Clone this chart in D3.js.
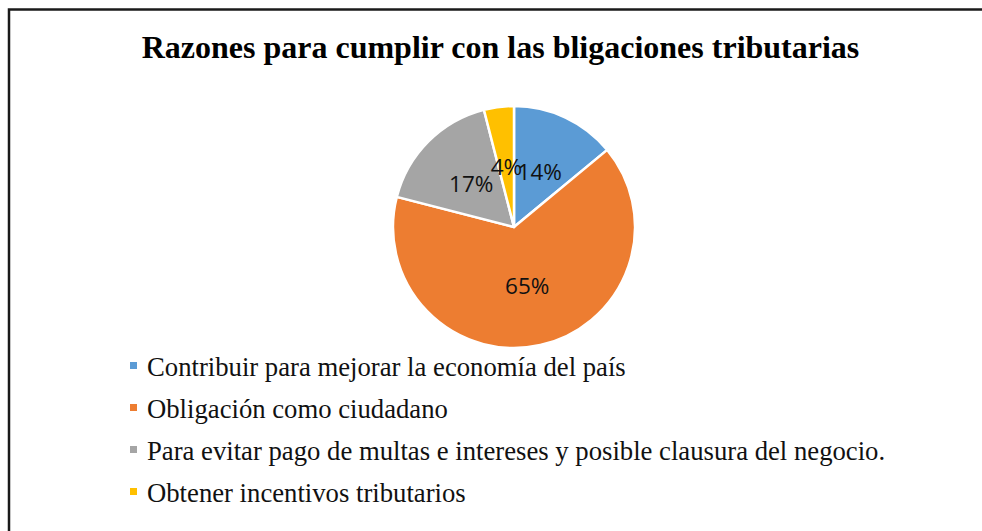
<!DOCTYPE html>
<html>
<head>
<meta charset="utf-8">
<script src="https://cdn.jsdelivr.net/npm/d3@7"></script>
<style>
  body { margin: 0; background: #fff; }
</style>
</head>
<body>
<script>
// chart data
var title = "Razones para cumplir con las bligaciones tributarias";
var categories = [
    "Contribuir para mejorar la economía del país",
    "Obligación como ciudadano",
    "Para evitar pago de multas e intereses y posible clausura del negocio.",
    "Obtener incentivos tributarios"
];
var values = [14, 65, 17, 4];
var colors = ["#5B9BD5", "#ED7D31", "#A5A5A5", "#FFC000"];

var width = 982, height = 531;

var svg = d3.select("body").append("svg")
    .attr("width", width)
    .attr("height", height);

// outer frame (right and bottom edges fall outside the picture)
svg.append("rect")
    .attr("x", 9)
    .attr("y", 9.5)
    .attr("width", width + 20)
    .attr("height", height + 20)
    .attr("fill", "none")
    .attr("stroke", "#1a1a1a")
    .attr("stroke-width", 2.5);

// title
svg.append("text")
    .attr("x", 500.5)
    .attr("y", 58)
    .attr("text-anchor", "middle")
    .style("font-family", "'Liberation Serif', 'Times New Roman', serif")
    .style("font-weight", "bold")
    .style("font-size", "32px")
    .text(title);

// pie
var radius = 121;
var g = svg.append("g")
    .attr("transform", "translate(514,227)");

var pie = d3.pie().sort(null).value(function(d) { return d; });
var arc = d3.arc().innerRadius(0).outerRadius(radius);
var arcs = pie(values);

g.selectAll("path")
    .data(arcs)
    .enter()
    .append("path")
    .attr("d", arc)
    .attr("fill", function(d, i) { return colors[i]; })
    .attr("stroke", "#fff")
    .attr("stroke-width", 2.5)
    .attr("stroke-linejoin", "round");

// data labels
g.selectAll(".lbl")
    .data(arcs)
    .enter()
    .append("text")
    .attr("class", "lbl")
    .attr("transform", function(d) { return "translate(" + arc.centroid(d) + ")"; })
    .attr("text-anchor", "middle")
    .attr("dy", "0.36em")
    .style("font-family", "'Open Sans', sans-serif")
    .style("font-size", "22.5px")
    .attr("fill", "#111")
    .text(function(d) { return d.data + "%"; });

// legend
var legend = svg.append("g")
    .attr("transform", "translate(130,376)");

var rows = legend.selectAll("g")
    .data(categories)
    .enter()
    .append("g")
    .attr("transform", function(d, i) { return "translate(0," + (i * 42) + ")"; });

rows.append("rect")
    .attr("x", 0)
    .attr("y", -14)
    .attr("width", 7)
    .attr("height", 7)
    .attr("fill", function(d, i) { return colors[i]; });

rows.append("text")
    .attr("x", 17)
    .attr("y", 0)
    .style("font-family", "'Liberation Serif', 'Times New Roman', serif")
    .style("font-size", "26.7px")
    .attr("fill", "#111")
    .text(function(d) { return d; });
</script>
</body>
</html>
